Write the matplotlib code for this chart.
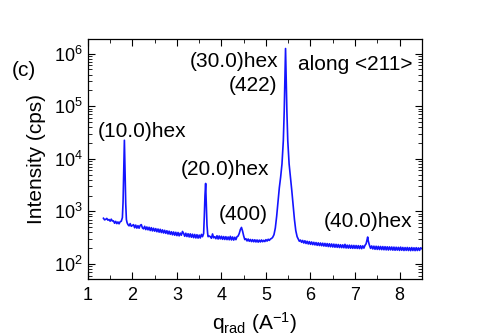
import matplotlib
matplotlib.use('Agg')
import matplotlib.pyplot as plt
from matplotlib.ticker import MultipleLocator, LogLocator, NullFormatter

plt.rcParams['font.family'] = ['Liberation Sans', 'DejaVu Sans']
plt.rcParams['mathtext.fontset'] = 'custom'
plt.rcParams['mathtext.rm'] = 'Liberation Sans'
plt.rcParams['mathtext.it'] = 'Liberation Sans'
plt.rcParams['mathtext.default'] = 'regular'

# scan along <211>: (q_rad [1/A], intensity [cps])
scan_low = [
    (1.350, 740), (1.375, 690), (1.400, 705), (1.425, 735), (1.450, 680),
    (1.475, 700), (1.500, 650), (1.525, 710), (1.550, 655), (1.575, 660),
    (1.600, 595), (1.625, 645), (1.650, 585), (1.675, 630), (1.700, 580),
    (1.725, 635), (1.750, 650), (1.775, 760),
    # (10.0)hex
    (1.790, 1500), (1.805, 6000), (1.820, 22500), (1.835, 6000), (1.850, 1400),
    (1.865, 700), (1.880, 610),
    (1.900, 560), (1.925, 530), (1.950, 585), (1.975, 520), (2.000, 540),
    (2.025, 560), (2.050, 488), (2.075, 548), (2.100, 480), (2.125, 535),
    (2.150, 478), (2.175, 540), (2.200, 560), (2.225, 485), (2.250, 465),
    (2.275, 520), (2.300, 450), (2.325, 505), (2.350, 445), (2.375, 498),
    (2.400, 432), (2.425, 490), (2.450, 425), (2.475, 478), (2.500, 420),
    (2.525, 470), (2.550, 410), (2.575, 462), (2.600, 402), (2.625, 456),
    (2.650, 395), (2.675, 445), (2.700, 388), (2.725, 436), (2.750, 382),
    (2.775, 428), (2.800, 372), (2.825, 420), (2.850, 366), (2.875, 410),
    (2.900, 358), (2.925, 406), (2.950, 352), (2.975, 400), (3.000, 346),
    (3.025, 396), (3.050, 342), (3.075, 386), (3.100, 352), (3.125, 415),
    (3.150, 382), (3.175, 336), (3.200, 384), (3.225, 332), (3.250, 376),
    (3.275, 326), (3.300, 374), (3.325, 322), (3.350, 368), (3.375, 316),
    (3.400, 364), (3.425, 312), (3.450, 360), (3.475, 310), (3.500, 354),
    (3.525, 312), (3.550, 365), (3.575, 330), (3.600, 380),
    # (20.0)hex
    (3.615, 800), (3.630, 2000), (3.645, 3400), (3.660, 1400), (3.675, 550),
    (3.690, 380),
]
scan_mid = [
    (3.700, 330), (3.725, 340), (3.750, 330), (3.775, 308), (3.800, 372),
    (3.825, 314), (3.850, 330), (3.875, 302), (3.900, 344), (3.925, 298),
    (3.950, 340), (3.975, 300), (4.000, 336), (4.025, 294), (4.050, 332),
    (4.075, 292), (4.100, 330), (4.125, 290), (4.150, 326), (4.175, 288),
    (4.200, 335), (4.225, 286), (4.250, 326), (4.275, 284), (4.300, 322),
    (4.325, 290), (4.350, 330),
    # (400)
    (4.375, 340), (4.400, 380), (4.425, 450), (4.450, 495), (4.475, 420),
    (4.500, 340), (4.525, 290),
    (4.550, 302), (4.575, 274), (4.600, 298), (4.625, 270), (4.650, 292),
    (4.675, 266), (4.700, 290), (4.725, 264), (4.750, 288), (4.775, 262),
    (4.800, 286), (4.825, 260), (4.850, 284), (4.875, 262), (4.900, 286),
    (4.925, 264), (4.950, 282), (4.975, 266), (5.000, 290), (5.025, 272),
    (5.050, 295), (5.075, 280), (5.100, 298), (5.125, 305),
    # (30.0)hex / (422)
    (5.150, 320), (5.180, 360), (5.210, 480), (5.240, 800), (5.270, 1500),
    (5.300, 2800), (5.330, 4500), (5.360, 8000), (5.390, 22000),
    (5.410, 80000), (5.430, 500000), (5.440, 1250000), (5.450, 500000),
    (5.470, 80000), (5.490, 22000), (5.520, 8000), (5.550, 4500),
    (5.580, 2500), (5.610, 1300), (5.640, 700), (5.670, 430), (5.700, 330),
]
scan_high = [
    (5.725, 300), (5.750, 270), (5.775, 285), (5.800, 258), (5.825, 280),
    (5.850, 250), (5.875, 276), (5.900, 245), (5.925, 270), (5.950, 240),
    (5.975, 266), (6.000, 236), (6.025, 262), (6.050, 233), (6.075, 258),
    (6.100, 230), (6.125, 255), (6.150, 226), (6.175, 252), (6.200, 224),
    (6.225, 250), (6.250, 222), (6.275, 248), (6.300, 219), (6.325, 246),
    (6.350, 217), (6.375, 244), (6.400, 214), (6.425, 242), (6.450, 212),
    (6.475, 240), (6.500, 210), (6.525, 238), (6.550, 208), (6.575, 236),
    (6.600, 207), (6.625, 234), (6.650, 205), (6.675, 232), (6.700, 204),
    (6.725, 231), (6.750, 203), (6.775, 236), (6.800, 201), (6.825, 228),
    (6.850, 200), (6.875, 228), (6.900, 199), (6.925, 226), (6.950, 198),
    (6.975, 225), (7.000, 198), (7.025, 224), (7.050, 197), (7.075, 223),
    (7.100, 196), (7.125, 222), (7.150, 195), (7.175, 221), (7.200, 200),
    # (40.0)hex
    (7.225, 226), (7.250, 242), (7.270, 290), (7.285, 325), (7.300, 270),
    (7.325, 226), (7.350, 198),
    (7.375, 220), (7.400, 193), (7.425, 218), (7.450, 190), (7.475, 217),
    (7.500, 189), (7.525, 216), (7.550, 188), (7.575, 215), (7.600, 187),
    (7.625, 214), (7.650, 186), (7.675, 213), (7.700, 185), (7.725, 212),
    (7.750, 184), (7.775, 211), (7.800, 185), (7.825, 210), (7.850, 183),
    (7.875, 209), (7.900, 182), (7.925, 208), (7.950, 183), (7.975, 207),
    (8.000, 181), (8.025, 209), (8.050, 182), (8.075, 206), (8.100, 180),
    (8.125, 205), (8.150, 181), (8.175, 206), (8.200, 180), (8.225, 204),
    (8.250, 179), (8.275, 205), (8.300, 180), (8.325, 203), (8.350, 179),
    (8.375, 204), (8.400, 180), (8.425, 202), (8.450, 181), (8.475, 203),
    (8.500, 195),
]

labels = ['(10.0)hex', '(20.0)hex', '(400)', '(40.0)hex']
label_q = [2.21, 4.07, 4.49, 7.30]
label_i = [33000, 6300, 860, 635]

q, intensity = zip(*(scan_low + scan_mid + scan_high))

fig = plt.figure(figsize=(4.91, 3.36), dpi=100)
ax = fig.add_axes([0.179, 0.170, 0.680, 0.714])

ax.plot(q, intensity, color='#1414ff', lw=1.2)
ax.set_yscale('log')
ax.set_xlim(1, 8.5)
ax.set_ylim(52, 1.9e6)

ax.xaxis.set_major_locator(MultipleLocator(1))
ax.xaxis.set_minor_locator(MultipleLocator(0.5))
ax.yaxis.set_major_locator(LogLocator(base=10, numticks=10))
ax.yaxis.set_minor_locator(LogLocator(base=10, subs=range(2, 10), numticks=20))
ax.yaxis.set_minor_formatter(NullFormatter())
ax.tick_params(which='both', direction='in', top=True, right=True, labelsize=13)
ax.tick_params(which='major', length=5, width=0.8)
ax.tick_params(which='minor', length=3, width=0.6)
ax.tick_params(axis='x', pad=6)

for s in ax.spines.values():
    s.set_linewidth(0.9)

for txt, x, y in zip(labels, label_q, label_i):
    ax.text(x, y, txt, fontsize=15, ha='center', va='center')
ax.text(5.27, 7.2e5, '(30.0)hex', fontsize=15, ha='right', va='center')
ax.text(5.25, 2.5e5, '(422)', fontsize=15, ha='right', va='center')
ax.text(5.71, 6.3e5, 'along <211>', fontsize=15, ha='left', va='center')

ax.set_xlabel('q$_{rad}$ (A$^{-1}$)', fontsize=15, labelpad=4)
ax.set_ylabel('Intensity (cps)', fontsize=15, labelpad=6)
fig.text(0.049, 0.79, '(c)', fontsize=15, ha='center', va='center')

fig.savefig('out.png', dpi=100)
